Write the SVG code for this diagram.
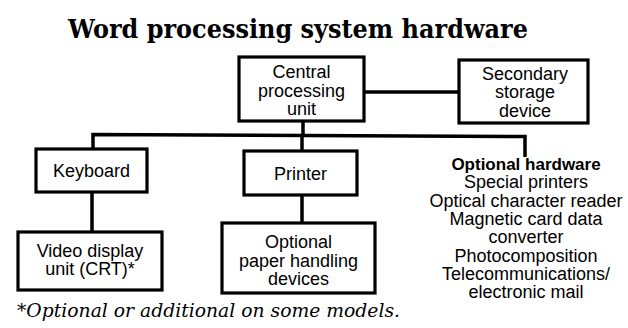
<svg xmlns="http://www.w3.org/2000/svg" width="628" height="328" viewBox="0 0 628 328">
<style>
.box{fill:#fff;stroke:#000;stroke-width:3.2}
.lbl{font-family:"Liberation Sans",Arial,sans-serif;font-size:18px;fill:#000;text-anchor:middle}
.bold{font-weight:bold;font-size:17px}
.wire{fill:none;stroke:#000;stroke-width:3.5;stroke-linejoin:miter}
.title{font-family:"DejaVu Serif","Liberation Serif",serif;font-weight:bold;font-size:26px;fill:#000}
.note{font-family:"DejaVu Serif","Liberation Serif",serif;font-style:italic;font-size:19px;fill:#000}
</style>
<rect width="628" height="328" fill="#fff"/>
<text class="title" x="68" y="38" textLength="460" lengthAdjust="spacingAndGlyphs">Word processing system hardware</text>
<g id="connectors">
<line class="wire" x1="364" y1="92" x2="459" y2="92"/>
<line class="wire" x1="303" y1="121" x2="303" y2="135"/>
<polyline class="wire" points="93,149 93,134.5 525,136.5 525,157"/>
<line class="wire" x1="302" y1="135" x2="302" y2="151"/>
<line class="wire" x1="92" y1="192" x2="92" y2="232"/>
<line class="wire" x1="302" y1="195" x2="302" y2="223"/>
</g>
<g id="cpu">
<rect class="box" x="239" y="57" width="125" height="64"/>
<text class="lbl" x="301.5" y="78">Central</text>
<text class="lbl" x="301.5" y="97">processing</text>
<text class="lbl" x="301.5" y="115">unit</text>
</g>
<g id="secondary">
<rect class="box" x="459" y="60" width="129" height="63"/>
<text class="lbl" x="525" y="80">Secondary</text>
<text class="lbl" x="525" y="98">storage</text>
<text class="lbl" x="525" y="117">device</text>
</g>
<g id="keyboard">
<rect class="box" x="36" y="149" width="111" height="43"/>
<text class="lbl" x="91.5" y="177">Keyboard</text>
</g>
<g id="video">
<rect class="box" x="18" y="232" width="144" height="58"/>
<text class="lbl" x="90" y="257">Video display</text>
<text class="lbl" x="90" y="275">unit (CRT)*</text>
</g>
<g id="printer">
<rect class="box" x="244" y="151" width="113" height="44"/>
<text class="lbl" x="300.5" y="180">Printer</text>
</g>
<g id="paper">
<rect class="box" x="222" y="223" width="153" height="70"/>
<text class="lbl" x="298.5" y="248">Optional</text>
<text class="lbl" x="298.5" y="267">paper handling</text>
<text class="lbl" x="298.5" y="285">devices</text>
</g>
<g id="optional">
<text class="lbl bold" x="526" y="170">Optional hardware</text>
<text class="lbl" x="526" y="188">Special printers</text>
<text class="lbl" x="526" y="206.5">Optical character reader</text>
<text class="lbl" x="526" y="225">Magnetic card data</text>
<text class="lbl" x="526" y="243">converter</text>
<text class="lbl" x="526" y="261.5">Photocomposition</text>
<text class="lbl" x="526" y="280">Telecommunications/</text>
<text class="lbl" x="526" y="298">electronic mail</text>
</g>
<text class="note" x="17" y="317" textLength="383" lengthAdjust="spacingAndGlyphs">*Optional or additional on some models.</text>
</svg>
